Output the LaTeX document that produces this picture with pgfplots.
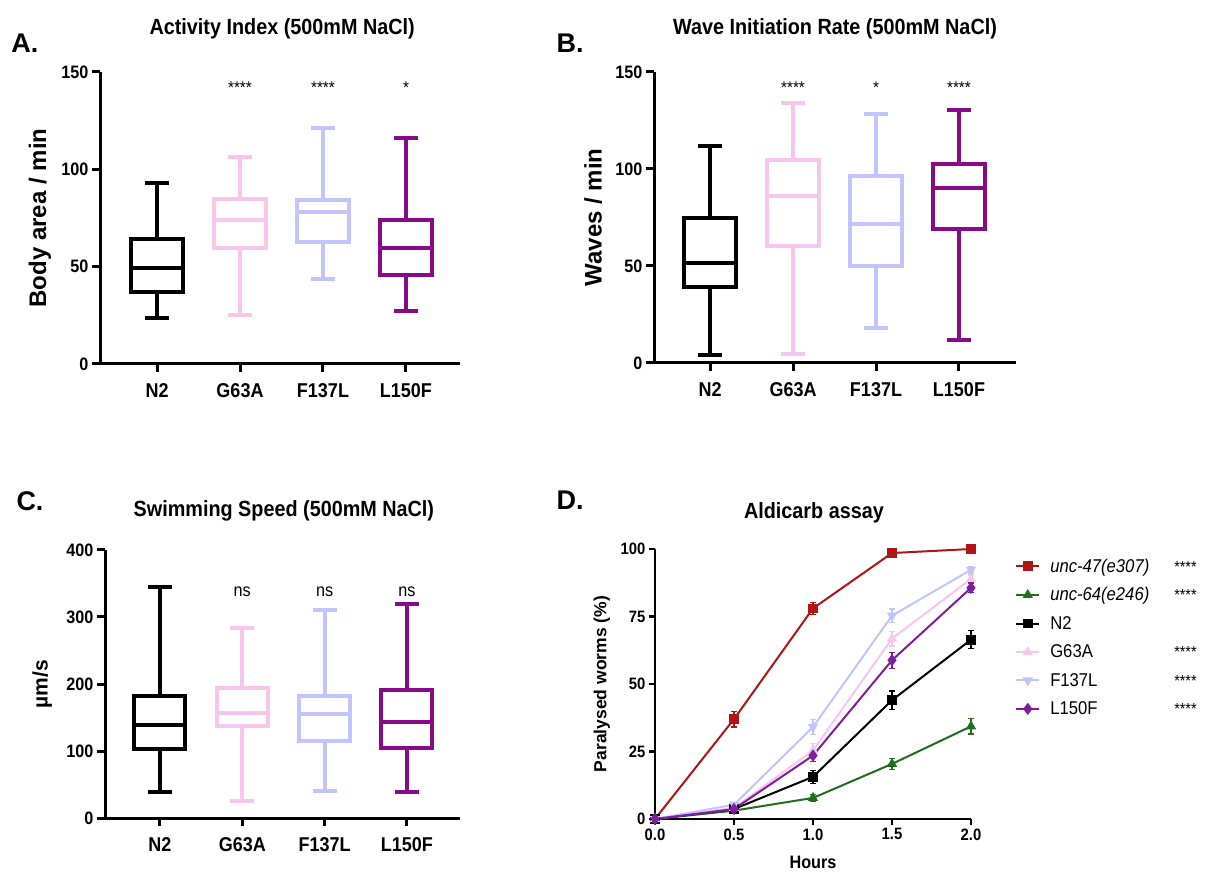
\documentclass[border=0pt]{standalone}
\usepackage{pgfplots}
\pgfplotsset{compat=1.18}
\usepgfplotslibrary{statistics}
\usepackage{fontspec}
\setmainfont{Liberation Sans}[FakeStretch=0.9]
\newfontfamily\plainsans{Liberation Sans}
\newcommand\fs[1]{\fontsize{#1}{#1}\selectfont}
\definecolor{pinkc}{HTML}{F8C6EC}
\definecolor{lavc}{HTML}{C2C4FF}
\definecolor{purc}{HTML}{880A88}
\definecolor{redD}{HTML}{B01414}
\definecolor{greenD}{HTML}{1E6E1E}
\definecolor{purD}{HTML}{7E1E9E}
\pgfplotsset{
  boxax/.style={scale only axis, anchor=south west, axis lines=left,
    axis line style={-, line width=3pt},
    tick align=outside, major tick length=8pt, tick style={line width=3pt, black},
    xtick={0,1,2,3}, xticklabels={N2,G63A,F137L,L150F},
    yticklabel style={font=\bfseries\fs{18}},
    xticklabel style={font=\bfseries\fs{20}, yshift=-8pt},
    /pgf/number format/assume math mode=true, clip=false,
    title style={font=\bfseries\fs{22}, anchor=center, yshift=-6pt},
    ylabel style={font=\plainsans\bfseries\fs{24}, anchor=center},
    boxplot/draw direction=y},
  bx/.style={line width=4pt, draw=#1, solid, mark=none},
}
\begin{document}
\begin{tikzpicture}[x=1pt,y=1pt]
\useasboundingbox (0,0) rectangle (1210,873);
% ---------------- A
\begin{axis}[boxax, at={(100pt,509pt)}, width=360pt, height=292pt,
  xmin=-0.687, xmax=3.651, ymin=0, ymax=150, ytick={0,50,100,150},
  title={Activity Index (500mM NaCl)}, title style={at={(axis description cs:0.506,1.148)}},
  ylabel={Body area / min}, ylabel style={at={(axis description cs:-0.167,0.5)}}]
\addplot[bx=black, boxplot prepared={draw position=0, lower whisker=23.4, lower quartile=37.1, median=49.4, upper quartile=64.1, upper whisker=93, box extend=0.62, whisker extend=0.29}] coordinates {};
\addplot[bx=pinkc, boxplot prepared={draw position=1, lower whisker=25.1, lower quartile=59.5, median=73.9, upper quartile=84.8, upper whisker=106.4, box extend=0.62, whisker extend=0.29}] coordinates {};
\addplot[bx=lavc, boxplot prepared={draw position=2, lower whisker=43.8, lower quartile=62.8, median=78, upper quartile=84.1, upper whisker=121.4, box extend=0.62, whisker extend=0.29}] coordinates {};
\addplot[bx=purc, boxplot prepared={draw position=3, lower whisker=27.4, lower quartile=45.7, median=59.7, upper quartile=74.2, upper whisker=116.1, box extend=0.62, whisker extend=0.29}] coordinates {};
\node[font=\fs{17}] at (axis cs:1,142) {****};
\node[font=\fs{17}] at (axis cs:2,142) {****};
\node[font=\fs{17}] at (axis cs:3,142) {*};
\end{axis}
% ---------------- B
\begin{axis}[boxax, at={(654pt,510pt)}, width=362pt, height=291pt,
  xmin=-0.675, xmax=3.687, ymin=0, ymax=150, ytick={0,50,100,150},
  title={Wave Initiation Rate (500mM NaCl)}, title style={at={(axis description cs:0.5,1.149)}},
  ylabel={Waves / min}, ylabel style={at={(axis description cs:-0.168,0.5)}}]
\addplot[bx=black, boxplot prepared={draw position=0, lower whisker=3.9, lower quartile=39.1, median=51.6, upper quartile=74.6, upper whisker=111.9, box extend=0.62, whisker extend=0.29}] coordinates {};
\addplot[bx=pinkc, boxplot prepared={draw position=1, lower whisker=4.6, lower quartile=60.3, median=86.1, upper quartile=104.4, upper whisker=134.1, box extend=0.62, whisker extend=0.29}] coordinates {};
\addplot[bx=lavc, boxplot prepared={draw position=2, lower whisker=18, lower quartile=50.2, median=71.7, upper quartile=96.5, upper whisker=128.6, box extend=0.62, whisker extend=0.29}] coordinates {};
\addplot[bx=purc, boxplot prepared={draw position=3, lower whisker=11.7, lower quartile=69.3, median=90.3, upper quartile=102.5, upper whisker=130.3, box extend=0.62, whisker extend=0.29}] coordinates {};
\node[font=\fs{17}] at (axis cs:1,142) {****};
\node[font=\fs{17}] at (axis cs:2,142) {*};
\node[font=\fs{17}] at (axis cs:3,142) {****};
\end{axis}
% ---------------- C
\begin{axis}[boxax, at={(105pt,55pt)}, width=355pt, height=268pt,
  xmin=-0.668, xmax=3.645, ymin=0, ymax=400, ytick={0,100,200,300,400},
  title={Swimming Speed (500mM NaCl)}, title style={at={(axis description cs:0.504,1.147)}},
  ylabel={µm/s}, ylabel style={font=\plainsans\bfseries\fs{21}, at={(axis description cs:-0.177,0.5)}}]
\addplot[bx=black, boxplot prepared={draw position=0, lower whisker=38.3, lower quartile=102.9, median=138.6, upper quartile=182.3, upper whisker=344.3, box extend=0.62, whisker extend=0.29}] coordinates {};
\addplot[bx=pinkc, boxplot prepared={draw position=1, lower whisker=25.8, lower quartile=137.6, median=156, upper quartile=194.3, upper whisker=284.2, box extend=0.62, whisker extend=0.29}] coordinates {};
\addplot[bx=lavc, boxplot prepared={draw position=2, lower whisker=40.8, lower quartile=114.3, median=155, upper quartile=182.3, upper whisker=310.6, box extend=0.62, whisker extend=0.29}] coordinates {};
\addplot[bx=purc, boxplot prepared={draw position=3, lower whisker=38.3, lower quartile=104.3, median=142.6, upper quartile=191.3, upper whisker=319.5, box extend=0.62, whisker extend=0.29}] coordinates {};
\node[font=\fs{18}] at (axis cs:1,337) {ns};
\node[font=\fs{18}] at (axis cs:2,337) {ns};
\node[font=\fs{18}] at (axis cs:3,337) {ns};
\end{axis}
% ---------------- D
\begin{axis}[scale only axis, anchor=south west, at={(655pt,54pt)}, width=316pt, height=270pt,
  xmin=0, xmax=2, ymin=0, ymax=100, axis lines=left, axis line style={-, line width=2.2pt},
  tick align=outside, major tick length=6pt, tick style={line width=2.2pt, black},
  xtick={0,0.5,1,1.5,2}, ytick={0,25,50,75,100},
  xticklabel style={/pgf/number format/.cd, fixed, fixed zerofill, precision=1},
  tick label style={font=\bfseries\fs{16.5}},
  /pgf/number format/assume math mode=true, clip=false,
  title={Aldicarb assay}, title style={font=\bfseries\fs{22}, anchor=center, yshift=-6pt, at={(axis description cs:0.503,1.133)}},
  ylabel={Paralysed worms (\%)}, ylabel style={font=\plainsans\bfseries\fs{17.5}, anchor=center, at={(axis description cs:-0.168,0.5)}},
  xlabel={Hours}, xlabel style={font=\bfseries\fs{18}, anchor=center, at={(axis description cs:0.5,-0.16)}},
  legend style={at={(axis description cs:1.13,0.98)}, anchor=north west, draw=none, fill=none, font=\fs{18.5}, row sep=10pt, nodes={inner sep=2pt},
    /tikz/every odd column/.append style={column sep=8pt}},
  legend cell align=left,
  legend image code/.code={\draw[#1, mark repeat=2, mark phase=2] plot coordinates {(0pt,0pt) (11.5pt,0pt) (23pt,0pt)};},
  error bars/y dir=both, error bars/y explicit,
  error bars/error bar style={line width=1.2pt},
  error bars/error mark options={rotate=90, mark size=3pt, line width=1.2pt},
  every axis plot/.append style={line width=2pt, mark options={solid}}]
\addplot[color=redD, mark=square*, mark size=3.8pt] coordinates {(0,0) (0.5,37) +- (0,2.9) (1,78) +- (0,2.3) (1.5,98.5) +- (0,0.8) (2,100) +- (0,0.3)};
\addlegendentry{\makebox[124pt][l]{\textit{unc-47(e307)}}{\fs{16}****}}
\addplot[color=greenD, mark=triangle*, mark size=4pt] coordinates {(0,0) (0.5,3.1) +- (0,0.6) (1,7.8) +- (0,1.2) (1.5,20.4) +- (0,2.1) (2,34.3) +- (0,2.8)};
\addlegendentry{\makebox[124pt][l]{\textit{unc-64(e246)}}{\fs{16}****}}
\addplot[color=black, mark=square*, mark size=3.8pt] coordinates {(0,0) (0.5,3.7) +- (0,0.6) (1,15.6) +- (0,2.5) (1.5,44) +- (0,3.4) (2,66.4) +- (0,3.4)};
\addlegendentry{N2}
\addplot[color=pinkc, mark=triangle*, mark size=4pt] coordinates {(0,0) (0.5,4.1) +- (0,0.6) (1,25.4) +- (0,2.5) (1.5,66.8) +- (0,2.7) (2,88.9) +- (0,1.5)};
\addlegendentry{\makebox[124pt][l]{G63A}{\fs{16}****}}
\addplot[color=lavc, mark=triangle*, mark size=4pt, mark options={rotate=180}] coordinates {(0,0) (0.5,5.3) +- (0,0.6) (1,34.1) +- (0,2.7) (1.5,75.3) +- (0,2.5) (2,92.3) +- (0,1.2)};
\addlegendentry{\makebox[124pt][l]{F137L}{\fs{16}****}}
\addplot[color=purD, mark=diamond*, mark size=4.5pt] coordinates {(0,0) (0.5,3.7) +- (0,0.6) (1,23.5) +- (0,2.3) (1.5,58.8) +- (0,3) (2,85.6) +- (0,1.8)};
\addlegendentry{\makebox[124pt][l]{L150F}{\fs{16}****}}
\end{axis}
% panel letters
\node[font=\plainsans\bfseries\fs{27}] at (25,830) {A.};
\node[font=\plainsans\bfseries\fs{27}] at (570,830) {B.};
\node[font=\plainsans\bfseries\fs{27}] at (30,372) {C.};
\node[font=\plainsans\bfseries\fs{27}] at (570,373) {D.};
\end{tikzpicture}
\end{document}
